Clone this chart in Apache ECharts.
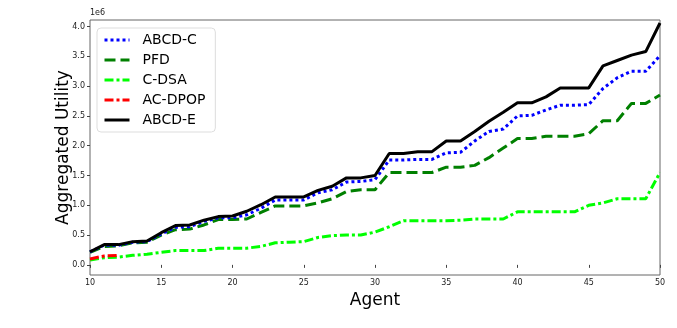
<!DOCTYPE html>
<html>
<head>
<meta charset="utf-8">
<script src="https://cdn.jsdelivr.net/npm/echarts@6/dist/echarts.min.js"></script>
<style>
  html, body { margin: 0; padding: 0; background: #fff; }
  #main { width: 677px; height: 328px; }
</style>
</head>
<body>
<div id="main"></div>
<script>
// 数据（单位 1e6）
var agents = [];
for (var a = 10; a <= 50; a++) agents.push(a);

var abcdC = [0.22,0.33,0.33,0.38,0.39,0.52,0.63,0.64,0.73,0.79,0.79,0.84,0.95,1.09,1.09,1.09,1.21,1.26,1.39,1.40,1.43,1.76,1.76,1.77,1.77,1.88,1.89,2.08,2.24,2.28,2.50,2.51,2.60,2.68,2.68,2.69,2.96,3.14,3.25,3.25,3.51];
var pfd = [0.21,0.31,0.32,0.37,0.38,0.50,0.59,0.60,0.67,0.76,0.76,0.77,0.88,0.99,0.99,0.99,1.04,1.11,1.23,1.26,1.26,1.55,1.55,1.55,1.55,1.64,1.64,1.67,1.80,1.96,2.12,2.12,2.16,2.16,2.16,2.20,2.42,2.42,2.71,2.71,2.85];
var cdsa = [0.08,0.12,0.13,0.16,0.18,0.21,0.24,0.24,0.24,0.28,0.28,0.28,0.31,0.37,0.38,0.39,0.46,0.49,0.50,0.50,0.55,0.64,0.74,0.74,0.74,0.74,0.75,0.77,0.77,0.77,0.89,0.89,0.89,0.89,0.89,1.00,1.04,1.11,1.11,1.11,1.55];
var acdpop = [0.10,0.15,0.16];
var abcdE = [0.22,0.34,0.34,0.39,0.40,0.54,0.66,0.67,0.75,0.81,0.82,0.90,1.01,1.14,1.14,1.14,1.25,1.32,1.46,1.46,1.50,1.87,1.87,1.90,1.90,2.08,2.08,2.24,2.41,2.56,2.72,2.72,2.82,2.97,2.97,2.97,3.34,3.43,3.52,3.58,4.06];

var yTicks = [0, 0.5, 1.0, 1.5, 2.0, 2.5, 3.0, 3.5, 4.0];

function pairs(vals) {
    var out = [];
    for (var i = 0; i < vals.length; i++) out.push([agents[i], vals[i]]);
    return out;
}

var myChart = echarts.init(document.getElementById('main'));

var font = 'DejaVu Sans';

function mkSeries(name, vals, color, type, z) {
    return {
        name: name,
        type: 'line',
        data: pairs(vals),
        symbol: 'none',
        z: z,
        lineStyle: { color: color, width: 3, type: type },
        itemStyle: { color: color },
        emphasis: { disabled: true }
    };
}

var option = {
    animation: false,
    textStyle: { fontFamily: font },
    grid: {
        left: 90, right: 17, top: 20, bottom: 53,
        show: true,
        borderColor: '#666',
        borderWidth: 1
    },
    graphic: [{
        type: 'text', left: 90, top: 9,
        style: { text: '1e6', font: '8px DejaVu Sans', fill: '#222' }
    }],
    legend: {
        orient: 'vertical',
        left: 97, top: 28,
        padding: [5, 10, 5, 6],
        itemGap: 6,
        itemWidth: 25, itemHeight: 14,
        itemStyle: { opacity: 0 },
        lineStyle: { width: 3 },
        backgroundColor: 'rgba(255,255,255,0.85)',
        borderColor: '#ddd', borderWidth: 1, borderRadius: 4,
        textStyle: { fontSize: 14, color: '#000', fontFamily: font, padding: [0, 0, 0, 8] },
        data: ['ABCD-C', 'PFD', 'C-DSA', 'AC-DPOP', 'ABCD-E']
    },
    xAxis: {
        type: 'value',
        min: 10, max: 50, interval: 5,
        name: 'Agent',
        nameLocation: 'middle',
        nameGap: 14,
        nameTextStyle: { fontSize: 17, color: '#000', fontFamily: font },
        splitLine: { show: false },
        axisLine: { show: false },
        axisTick: { show: true, length: 3, lineStyle: { color: '#444' } },
        axisLabel: { fontSize: 8, color: '#222', margin: 4, fontFamily: font }
    },
    yAxis: {
        type: 'value',
        min: -0.17, max: 4.11,
        name: 'Aggregated Utility',
        nameLocation: 'middle',
        nameGap: 18,
        nameMoveOverlap: false,
        nameTextStyle: { fontSize: 17, color: '#000', fontFamily: font },
        splitLine: { show: false },
        axisLine: { show: false },
        axisTick: { show: true, length: 3, customValues: yTicks, lineStyle: { color: '#444' } },
        axisLabel: {
            fontSize: 8, color: '#222', margin: 5, fontFamily: font,
            customValues: yTicks,
            formatter: function (v) { return v.toFixed(1); }
        }
    },
    series: [
        mkSeries('ABCD-C', abcdC, '#0000ff', [3, 3], 3),
        mkSeries('PFD', pfd, '#008000', [11, 5], 2),
        mkSeries('C-DSA', cdsa, '#00ff00', [9, 3, 3, 3], 2),
        mkSeries('AC-DPOP', acdpop, '#ff0000', [9, 3, 3, 3], 2),
        mkSeries('ABCD-E', abcdE, '#000000', 'solid', 4)
    ]
};

myChart.setOption(option);
</script>
</body>
</html>
